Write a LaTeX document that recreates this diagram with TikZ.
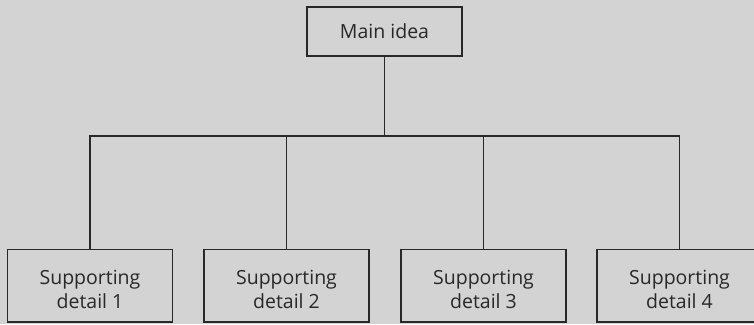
\documentclass[tikz,border=0pt]{standalone}
\usepackage{fontspec}
\setmainfont{Open Sans}
\definecolor{paper}{RGB}{211,211,211}
\definecolor{ink}{RGB}{40,40,40}
\newcommand{\topgap}{\rule{0pt}{22pt}}
\begin{document}
\begin{tikzpicture}[x=1pt, y=1pt,
        idea/.style={draw=ink, text=ink, line width=1.3pt, minimum width=155pt, minimum height=49pt, inner sep=0pt, font=\fontsize{19.5}{24}\selectfont},
        detail/.style={draw=ink, text=ink, line width=1.3pt, minimum width=165pt, minimum height=72.5pt, inner sep=0pt, align=center, font=\fontsize{19.5}{24}\selectfont}]
            \fill [paper] (0,0) rectangle (754,324);
            \useasboundingbox (0,0) rectangle (754,324);

            \node (main) [idea] at (384.5,292.5) {Main idea};
            \node (det1) [detail] at (90,38.25) {\topgap Supporting\\detail 1};
            \node (det2) [detail] at (286.5,38.25) {\topgap Supporting\\detail 2};
            \node (det3) [detail] at (483.5,38.25) {\topgap Supporting\\detail 3};
            \node (det4) [detail] at (679.5,38.25) {\topgap Supporting\\detail 4};
            \coordinate (bus) at (384.5,188);

            \draw [ink, line width=1.3pt] (main.south) -- (bus);
            \draw [ink, line width=1.3pt] (det1.north) |- (bus) -| (det4.north);
            \draw [ink, line width=1.3pt] (det2.north) -- (det2.north |- bus);
            \draw [ink, line width=1.3pt] (det3.north) -- (det3.north |- bus);
        \end{tikzpicture}
\end{document}
